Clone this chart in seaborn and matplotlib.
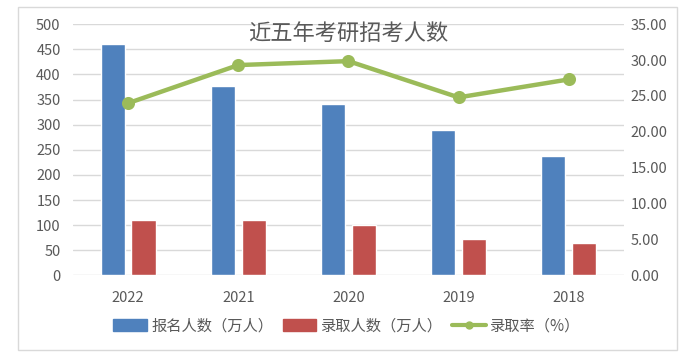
import numpy as np
import pandas as pd
import matplotlib
matplotlib.use('Agg')
import matplotlib.pyplot as plt
from matplotlib.lines import Line2D
from matplotlib.patches import Patch, Rectangle
import seaborn as sns

years = ['2022', '2021', '2020', '2019', '2018']
baoming = [460, 377, 341, 290, 238]      # 报名人数（万人）
luqu = [111, 111, 100, 72, 64]           # 录取人数（万人）
rate = [24.0, 29.3, 29.85, 24.8, 27.3]   # 录取率（%）

name_bm = '报名人数（万人）'
name_lq = '录取人数（万人）'
name_rate = '录取率（%）'

blue = '#4F81BD'
red = '#C0504D'
green = '#9BBB59'
grey = '#595959'

sns.set_theme(style='white')
plt.rcParams['font.family'] = ['Noto Sans CJK SC', 'DejaVu Sans']

df = pd.DataFrame({'year': years * 2,
                   'value': baoming + luqu,
                   'kind': [name_bm] * 5 + [name_lq] * 5})
df_rate = pd.DataFrame({'year': years, 'rate': rate})

fig = plt.figure(figsize=(6.9, 3.55), dpi=100)
ax = fig.add_axes([0.106, 0.224, 0.798, 0.708])

sns.barplot(data=df, x='year', y='value', hue='kind', order=years,
            palette=[blue, red], saturation=1, width=0.56, gap=0.21,
            ax=ax, legend=False)
ax.set_ylim(0, 500)
ax.set_yticks(range(0, 501, 50))
ax.set_xlim(-0.5, 4.5)
ax.grid(axis='y', color='#D9D9D9', linewidth=1)
ax.set_axisbelow(True)
ax.set_xlabel('')
ax.set_ylabel('')
for s in ax.spines.values():
    s.set_visible(False)
ax.tick_params(axis='x', length=0, pad=11, labelsize=10.5, labelcolor=grey)
ax.tick_params(axis='y', length=0, pad=9, labelsize=10.5, labelcolor=grey)

ax2 = ax.twinx()
sns.pointplot(data=df_rate, x='year', y='rate', order=years, color=green,
              markers='o', markersize=7, linewidth=3.2, ax=ax2)
ax2.set_ylim(0, 35)
ax2.set_yticks(np.arange(0, 36, 5))
ax2.set_yticklabels([f'{v:.2f}' for v in np.arange(0, 36, 5)])
ax2.set_xlim(-0.5, 4.5)
ax2.set_xlabel('')
ax2.set_ylabel('')
for s in ax2.spines.values():
    s.set_visible(False)
ax2.tick_params(axis='y', length=0, pad=5, labelsize=10.5, labelcolor=grey)
ax2.grid(False)

fig.text(0.504, 0.905, '近五年考研招考人数', ha='center', va='center',
         fontsize=16, color=grey, fontweight='light')

handles = [Patch(color=blue, label=name_bm),
           Patch(color=red, label=name_lq),
           Line2D([], [], color=green, linewidth=3, marker='o', markersize=5,
                  label=name_rate)]
fig.legend(handles=handles, loc='center', bbox_to_anchor=(0.503, 0.082),
           ncol=3, frameon=False, fontsize=11, handlelength=2.2,
           handleheight=0.8, columnspacing=0.6, handletextpad=0.3,
           labelcolor=grey)

fig.patches.append(Rectangle((0.026, 0.014), 0.955, 0.966,
                             transform=fig.transFigure, fill=False,
                             edgecolor='#D9D9D9', linewidth=1))

fig.savefig('out.png', dpi=100)
